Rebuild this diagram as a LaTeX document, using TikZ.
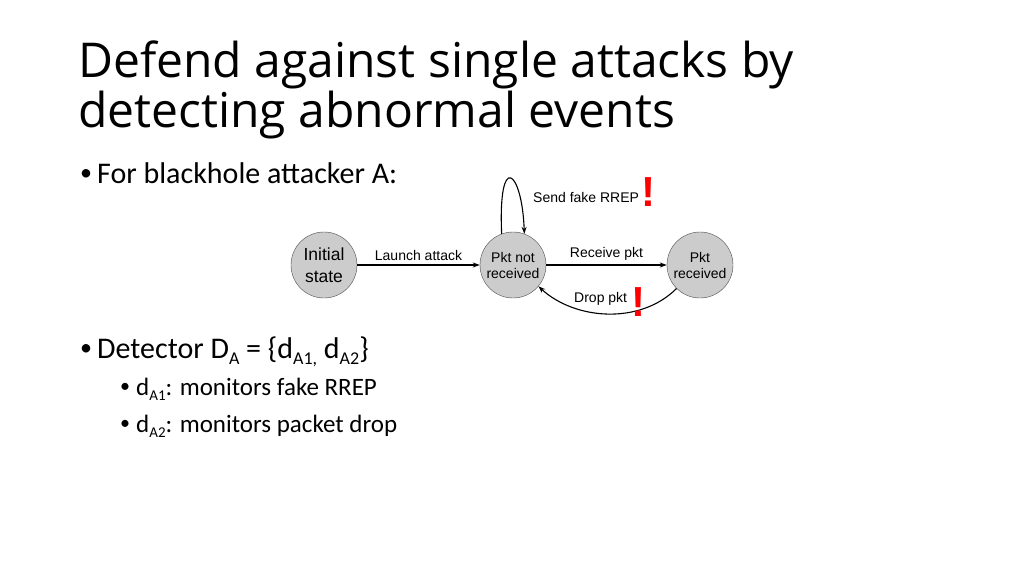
\documentclass[tikz,border=0pt]{standalone}
\usepackage{fontspec}
\setmainfont{Carlito}
\newfontfamily\titlefont{Open Sans}
\newfontfamily\diagfont{Liberation Sans}
\usetikzlibrary{arrows.meta}
\newcommand{\mybul}[1]{\makebox[#1][l]{\raisebox{0.1em}{\scalebox{0.8}{•}}}}
\newcommand{\mysub}[1]{\raisebox{-0.22em}{\scalebox{0.6}{#1}}}
\begin{document}
\begin{tikzpicture}[x=1pt,y=-1pt,
  st/.style={circle,draw=black!70,fill=black!20,minimum size=66pt,inner sep=0pt,align=center,font=\diagfont\fontsize{14}{16}\selectfont},
  tr/.style={-{Stealth[length=7pt,width=5pt]},line width=1.1pt},
  lb/.style={font=\diagfont\fontsize{14}{15}\selectfont,inner sep=1pt},
  txt/.style={anchor=base west,inner sep=0pt},
  bang/.style={text=red,font=\diagfont\bfseries\fontsize{42}{42}\selectfont,inner sep=0pt}]
\useasboundingbox (0,0) rectangle (1024,575);
\node[txt,font=\titlefont\fontsize{48}{48}\selectfont] (t1) at (78,78) {Defend against single attacks by};
\node[txt,font=\titlefont\fontsize{48}{48}\selectfont] (t2) at (78,127) {detecting abnormal events};
\node[txt,font=\fontsize{30}{30}\selectfont] (b1) at (80,183) {\mybul{17pt}For blackhole attacker A:};
\node[txt,font=\fontsize{30}{30}\selectfont] (b2) at (80,358) {\mybul{17pt}Detector D\mysub{A} = \{d\mysub{A1,} d\mysub{A2}\}};
\node[txt,font=\fontsize{25}{25}\selectfont] (b3) at (120,395) {\mybul{16pt}d\mysub{A1}: monitors fake RREP};
\node[txt,font=\fontsize{25}{25}\selectfont] (b4) at (120,432) {\mybul{16pt}d\mysub{A2}: monitors packet drop};
\node[st,font=\diagfont\fontsize{17.5}{22}\selectfont] (s0) at (324,265) {Initial\\state};
\node[st] (s1) at (513,265) {Pkt not\\received};
\node[st] (s2) at (700,265) {Pkt\\received};
\draw[tr] (s0) -- node[lb,above=3pt]{Launch attack} (s1);
\draw[tr] (s1) -- node[lb,above=3pt]{Receive pkt} (s2);
\draw[tr] (s1.110) .. controls (498,150) and (522,170) .. (s1.70);
\node[lb,anchor=west] (l3) at (532,197) {Send fake RREP};
\draw[tr] (s2.225) .. controls (640,325) and (575,320) .. (s1.-40);
\node[lb,anchor=west] (l4) at (573,299) {Drop pkt};
\node[bang] (e1) at (648,192) {!};
\node[bang] (e2) at (638,302) {!};
\end{tikzpicture}
\end{document}
